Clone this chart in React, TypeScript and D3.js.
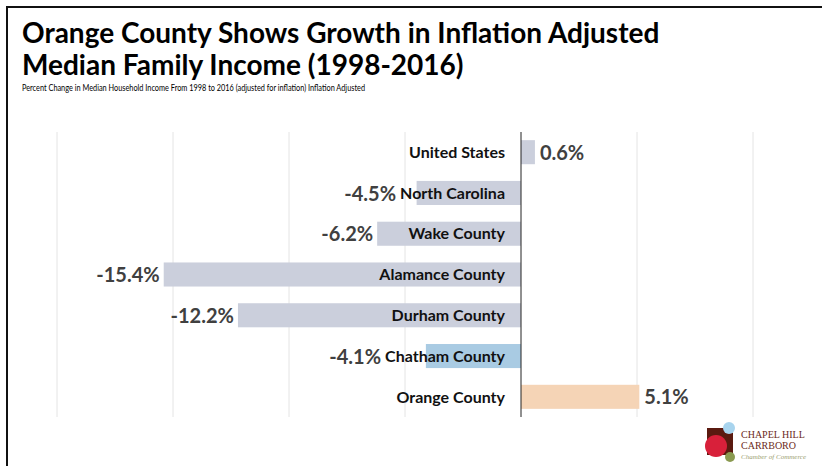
import React from "react";
import * as d3 from "d3";

const categories = ["United States", "North Carolina", "Wake County", "Alamance County", "Durham County", "Chatham County", "Orange County"];
const values = [0.6, -4.5, -6.2, -15.4, -12.2, -4.1, 5.1];
const barColors = ["#cbcfdc", "#cbcfdc", "#cbcfdc", "#cbcfdc", "#cbcfdc", "#a9cbe3", "#f5d4b6"];
const gridTicks = [-20, -15, -10, -5, 0, 5, 10];
const titleLines = ["Orange County Shows Growth in Inflation Adjusted", "Median Family Income (1998-2016)"];
const subtitle = "Percent Change in Median Household Income From 1998 to 2016 (adjusted for inflation) Inflation Adjusted";

const W = 822;
const H = 466;
const FONT = "Lato, 'Open Sans', sans-serif";
const CAT_SIZE = 16;
const VAL_SIZE = 20;

function measure(text: string, size: number): number {
  if (typeof document === "undefined") return text.length * size * 0.55;
  const c = document.createElement("canvas");
  const ctx = c.getContext("2d");
  if (!ctx) return text.length * size * 0.55;
  ctx.font = `bold ${size}px Lato`;
  return ctx.measureText(text).width;
}

export default function App() {
  const x = d3.scaleLinear().domain([-20, 10]).range([57, 753]);
  const y = d3.scaleBand<string>().domain(categories).range([132, 417]).paddingInner(0.41).paddingOuter(0.2);
  const fmt = (v: number) => `${v.toFixed(1)}%`;
  const catEnd = x(0) - 16;
  return (
    <svg width={W} height={H} style={{ position: "absolute", left: 0, top: 0, background: "#fff" }} fontFamily={FONT}>
      <rect x={0} y={0} width={W} height={H} fill="#fff" />
      <path d={`M7,${H} L7,7 L${W},7`} fill="none" stroke="#111" strokeWidth={2} />
      {titleLines.map((t, i) => (
        <text key={t} x={22} y={43 + i * 32} fontSize={28} fontWeight={700} fill="#000">{t}</text>
      ))}
      <text x={22} y={91} fontSize={8.5} fill="#000" textLength={343} lengthAdjust="spacingAndGlyphs">{subtitle}</text>
      {gridTicks.filter((t) => t !== 0).map((t) => (
        <line key={t} x1={x(t)} x2={x(t)} y1={132} y2={417} stroke="#e4e4e4" strokeWidth={1} />
      ))}
      {categories.map((c, i) => {
        const v = values[i];
        const x0 = x(Math.min(0, v));
        const x1 = x(Math.max(0, v));
        return <rect key={c} x={x0} y={y(c)!} width={x1 - x0} height={y.bandwidth()} fill={barColors[i]} />;
      })}
      <line x1={x(0)} x2={x(0)} y1={132} y2={417} stroke="#222" strokeWidth={1} />
      {categories.map((c, i) => {
        const v = values[i];
        const yy = y(c)! + y.bandwidth() / 2;
        const labelStart = catEnd - measure(c, CAT_SIZE);
        const negEnd = Math.min(x(v), labelStart) - 4;
        return (
          <g key={c + "-l"}>
            <text x={catEnd} y={yy} dy="0.36em" textAnchor="end" fontSize={CAT_SIZE} fontWeight={700} fill="#111">{c}</text>
            <text x={v >= 0 ? x(v) + 5 : negEnd} y={yy} dy="0.38em" textAnchor={v >= 0 ? "start" : "end"} fontSize={VAL_SIZE} fontWeight={700} fill="#404040">{fmt(v)}</text>
          </g>
        );
      })}
      <g>
        <rect x={707} y={428} width={26} height={27} fill="#5a1a10" />
        <circle cx={729} cy={428} r={6} fill="#a8d4ee" />
        <circle cx={716} cy={446} r={11} fill="#d8203a" />
        <circle cx={730} cy={457} r={5} fill="#8a9a50" />
        <text x={741} y={438} fontFamily="'Liberation Serif', serif" fontSize={10} fill="#6b2a22">CHAPEL HILL</text>
        <text x={741} y={449} fontFamily="'Liberation Serif', serif" fontSize={10} fill="#6b2a22">CARRBORO</text>
        <text x={741} y={459} fontFamily="'Liberation Serif', serif" fontStyle="italic" fontSize={7} fill="#9aa070">Chamber of Commerce</text>
      </g>
    </svg>
  );
}
